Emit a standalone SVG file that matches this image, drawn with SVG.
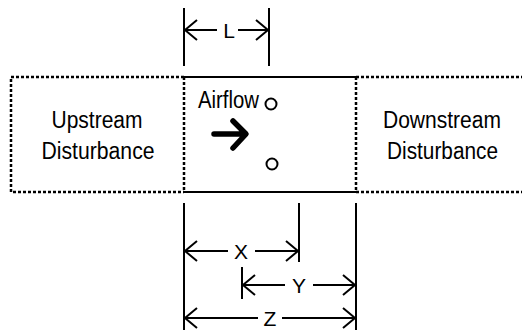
<svg xmlns="http://www.w3.org/2000/svg" width="522" height="330" viewBox="0 0 522 330">
<style>
.t{font-family:"Liberation Sans",Arial,sans-serif;font-size:23.5px;fill:#000;text-anchor:middle}
.d{font-size:21px}
.dot{stroke:#000;stroke-width:2.5;stroke-dasharray:3 2;fill:none}
.ln{stroke:#000;stroke-width:2;fill:none}
.ah{stroke:#000;stroke-width:2;fill:none;stroke-linejoin:miter}
</style>
<rect width="522" height="330" fill="#fff"/>
<g id="upstream">
<path class="dot" d="M184,77 H11 V192 H184"/>
<text class="t" x="97" y="128" textLength="91" lengthAdjust="spacingAndGlyphs">Upstream</text>
<text class="t" x="98" y="159" textLength="113" lengthAdjust="spacingAndGlyphs">Disturbance</text>
</g>
<g id="test-section">
<path class="ln" d="M184,77 H356 M184,192 H356"/>
<path class="dot" d="M184,77 V192 M356,77 V192"/>
<text class="t" x="228.5" y="108" textLength="61" lengthAdjust="spacingAndGlyphs">Airflow</text>
<circle cx="271" cy="104" r="5.5" class="ln"/>
<circle cx="272" cy="164" r="5.5" class="ln"/>
<path d="M214,134 H245 M233,121 L246,134 L233,148" stroke="#000" stroke-width="5.5" fill="none" stroke-linecap="round" stroke-linejoin="round"/>
</g>
<g id="downstream">
<path class="dot" d="M356,77 H522 M356,192 H522"/>
<text class="t" x="442" y="128" textLength="118" lengthAdjust="spacingAndGlyphs">Downstream</text>
<text class="t" x="442.5" y="159" textLength="111" lengthAdjust="spacingAndGlyphs">Disturbance</text>
</g>
<g id="connectors">
<path class="ln" d="M184,8 V66 M269,8 V66"/>
<path class="ln" d="M184,30 H217 M238,30 H269"/>
<path class="ah" d="M197,20 L185,30 L197,40 M256,20 L268,30 L256,40"/>
<text class="t d" x="229" y="38">L</text>
<path class="ln" d="M184,203 V330 M356,203 V330 M299,203 V262 M242,267 V299"/>
<path class="ln" d="M184,251 H228 M255,251 H299"/>
<path class="ah" d="M197,241 L185,251 L197,261 M286,241 L298,251 L286,261"/>
<text class="t d" x="241" y="258.5">X</text>
<path class="ln" d="M242,285 H285 M313,285 H356"/>
<path class="ah" d="M255,275 L243,285 L255,295 M343,275 L355,285 L343,295"/>
<text class="t d" x="299" y="292.5">Y</text>
<path class="ln" d="M184,318 H258 M282,318 H356"/>
<path class="ah" d="M197,308 L185,318 L197,328 M343,308 L355,318 L343,328"/>
<text class="t d" x="270" y="325.5">Z</text>
</g>
</svg>
